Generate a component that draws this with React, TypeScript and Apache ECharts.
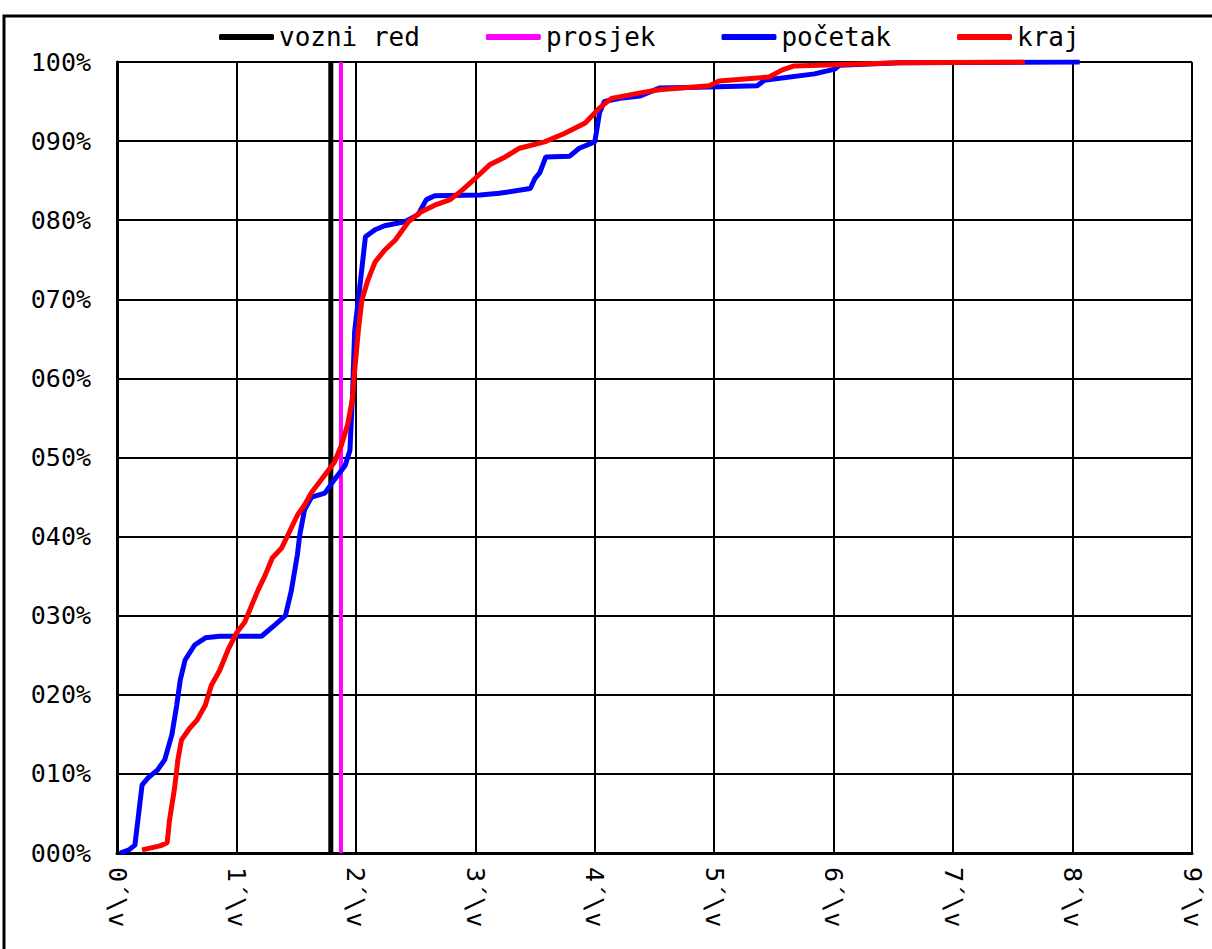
import React, { useEffect, useRef } from "react";
import * as echarts from "echarts";

const legendNames = ["vozni red", "prosjek", "početak", "kraj"];
const voznRedX = 1.79;
const prosjekX = 1.875;

const pocetakX = [0.025, 0.1, 0.15, 0.18, 0.21, 0.26, 0.34, 0.4, 0.46, 0.5, 0.53, 0.57, 0.65, 0.74, 0.86, 1.21, 1.32, 1.41, 1.46, 1.51, 1.53, 1.57, 1.63, 1.74, 1.82, 1.91, 1.95, 1.97, 1.99, 2.03, 2.08, 2.16, 2.24, 2.41, 2.52, 2.59, 2.66, 3.04, 3.2, 3.46, 3.5, 3.54, 3.59, 3.79, 3.87, 4.0, 4.02, 4.04, 4.08, 4.21, 4.38, 4.54, 4.87, 5.36, 5.42, 5.84, 6.01, 6.05, 6.55, 8.06];
const pocetakY = [0, 0.4, 1, 4.8, 8.6, 9.5, 10.5, 11.8, 15, 18.7, 21.9, 24.4, 26.3, 27.2, 27.4, 27.4, 28.8, 30, 33.2, 37.7, 40.2, 43.4, 45, 45.5, 47.2, 49, 50.9, 57.3, 66, 71.2, 77.9, 78.8, 79.3, 79.8, 80.7, 82.6, 83.1, 83.2, 83.4, 84, 85.3, 86, 88, 88.1, 89.1, 89.9, 91.7, 93.6, 95, 95.4, 95.7, 96.7, 96.8, 97, 97.7, 98.5, 99.1, 99.6, 99.9, 100];

const krajX = [0.21, 0.36, 0.42, 0.44, 0.48, 0.5, 0.51, 0.54, 0.61, 0.67, 0.74, 0.79, 0.86, 0.93, 1.0, 1.07, 1.13, 1.18, 1.24, 1.3, 1.38, 1.45, 1.51, 1.57, 1.63, 1.74, 1.82, 1.88, 1.93, 1.97, 1.99, 2.02, 2.05, 2.1, 2.16, 2.24, 2.33, 2.44, 2.54, 2.66, 2.79, 2.89, 3.0, 3.12, 3.25, 3.37, 3.58, 3.75, 3.92, 4.04, 4.14, 4.38, 4.54, 4.96, 5.04, 5.46, 5.57, 5.67, 6.55, 7.6];
const krajY = [0.4, 0.9, 1.3, 4.2, 8, 10.5, 11.8, 14.3, 15.8, 16.8, 18.7, 21.2, 23.1, 25.7, 27.8, 29.2, 31.4, 33.2, 35.1, 37.3, 38.6, 40.8, 42.7, 44, 45.6, 47.8, 49.4, 51.6, 54.1, 57.3, 61, 66, 69.9, 72.4, 74.7, 76.2, 77.5, 79.8, 81, 81.9, 82.6, 83.8, 85.3, 87, 88, 89.1, 89.9, 91, 92.3, 94.2, 95.4, 96.1, 96.5, 97, 97.6, 98.1, 99, 99.5, 99.9, 100];

const colors = ["#000000", "#ff00ff", "#0000ff", "#ff0000"];
const FONT = "DejaVu Sans Mono";

export default function App() {
  const ref = useRef<HTMLDivElement>(null);
  useEffect(() => {
    if (!ref.current) return;
    const chart = echarts.init(ref.current, null, { renderer: "svg" });
    const zip = (xs: number[], ys: number[]) => xs.map((x, i) => [x, ys[i]]);
    chart.setOption({
      animation: false,
      backgroundColor: "#ffffff",
      color: colors,
      textStyle: { fontFamily: FONT },
      graphic: [
        {
          type: "rect",
          shape: { x: 4, y: 16, width: 1300, height: 1000 },
          style: { fill: "none", stroke: "#000", lineWidth: 3 },
          silent: true,
        },
      ],
      legend: {
        left: 214,
        top: 19,
        itemWidth: 55,
        itemHeight: 6,
        itemGap: 66,
        icon: "roundRect",
        data: legendNames,
        textStyle: { fontFamily: FONT, fontSize: 26, color: "#000" },
      },
      grid: {
        left: 117,
        right: 20,
        top: 62,
        bottom: 96,
        outerBoundsMode: "none",
        containLabel: false,
      },
      xAxis: {
        type: "value",
        min: 0,
        max: 9,
        interval: 1,
        axisLine: { show: true, onZero: false, lineStyle: { color: "#000", width: 3 } },
        axisTick: { show: false },
        splitLine: { show: true, lineStyle: { color: "#000", width: 2 } },
        axisLabel: {
          rotate: -90,
          margin: 14,
          color: "#000",
          fontFamily: FONT,
          fontSize: 25,
          formatter: (v: number) => `${v}´\\v`,
        },
      },
      yAxis: {
        type: "value",
        min: 0,
        max: 100,
        interval: 10,
        axisLine: { show: true, lineStyle: { color: "#000", width: 3 } },
        axisTick: { show: false },
        splitLine: { show: true, lineStyle: { color: "#000", width: 2 } },
        axisLabel: {
          margin: 26,
          color: "#000",
          fontFamily: FONT,
          fontSize: 25,
          formatter: (v: number) => String(Math.round(v)).padStart(3, "0") + "%",
        },
      },
      series: [
        {
          name: legendNames[0],
          type: "line",
          showSymbol: false,
          symbol: "none",
          data: [[voznRedX, 0], [voznRedX, 100]],
          lineStyle: { color: colors[0], width: 5 },
          itemStyle: { color: colors[0] },
        },
        {
          name: legendNames[1],
          type: "line",
          showSymbol: false,
          symbol: "none",
          data: [[prosjekX, 0], [prosjekX, 100]],
          lineStyle: { color: colors[1], width: 4 },
          itemStyle: { color: colors[1] },
        },
        {
          name: legendNames[2],
          type: "line",
          showSymbol: false,
          symbol: "none",
          data: zip(pocetakX, pocetakY),
          lineStyle: { color: colors[2], width: 5 },
          itemStyle: { color: colors[2] },
        },
        {
          name: legendNames[3],
          type: "line",
          showSymbol: false,
          symbol: "none",
          data: zip(krajX, krajY),
          lineStyle: { color: colors[3], width: 5 },
          itemStyle: { color: colors[3] },
        },
      ],
    });
    return () => chart.dispose();
  }, []);
  return (
    <div
      ref={ref}
      style={{ position: "fixed", left: 0, top: 0, width: 1212, height: 949 }}
    />
  );
}
